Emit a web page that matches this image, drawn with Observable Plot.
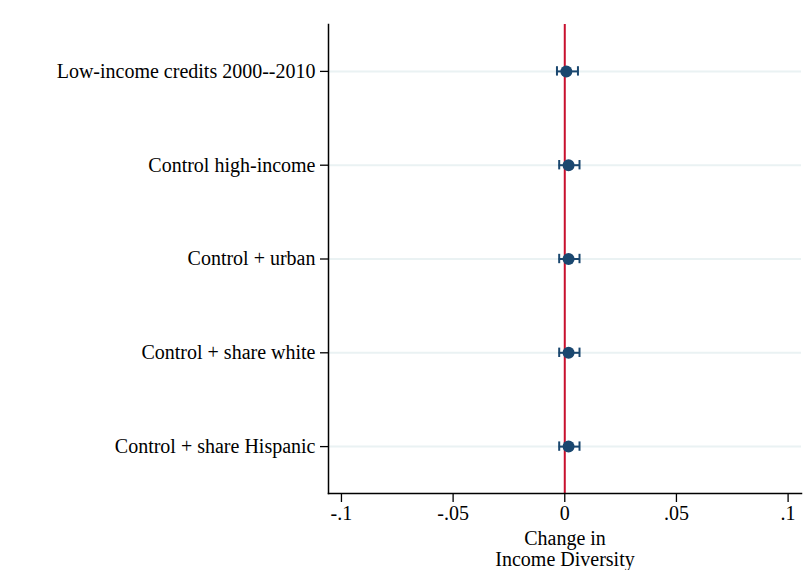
<!DOCTYPE html>
<html>
<head>
<meta charset="utf-8">
<script src="https://cdn.jsdelivr.net/npm/d3@7"></script>
<script src="https://cdn.jsdelivr.net/npm/@observablehq/plot@0.6"></script>
<style>
  html, body { margin: 0; padding: 0; background: #fff; }
  svg { display: block; }
</style>
</head>
<body>
<div id="chart"></div>
<script>
const models = [
  "Low-income credits 2000--2010",
  "Control high-income",
  "Control + urban",
  "Control + share white",
  "Control + share Hispanic"
];
const estimates = [0.0007, 0.0017, 0.0017, 0.0017, 0.0017];
const ciLow = [-0.0035, -0.0025, -0.0025, -0.0025, -0.0025];
const ciHigh = [0.0059, 0.0066, 0.0066, 0.0066, 0.0066];
const xTicks = [-0.1, -0.05, 0, 0.05, 0.1];
const xDomain = [-0.1058, 0.106];
const xTitle = "Change in\nIncome Diversity";

const rows = models.map((m, i) => ({model: m, est: estimates[i], lo: ciLow[i], hi: ciHigh[i]}));
const fmt = v => v === 0 ? "0" : String(v).replace("0.", ".");
const navy = "#1a476f";
const font = "Liberation Serif, Times New Roman, serif";

const chart = Plot.plot({
  width: 811,
  height: 570,
  marginLeft: 328,
  marginRight: 10,
  marginTop: 24,
  marginBottom: 77,
  style: {fontFamily: font, fontSize: "20px", color: "#000", background: "#fff"},
  x: {domain: xDomain, ticks: xTicks, tickFormat: fmt, label: null},
  y: {type: "band", domain: models, paddingInner: 0.9, paddingOuter: 0.45, round: false, label: null},
  marks: [
    Plot.gridY(models, {stroke: "#eaf2f3", strokeOpacity: 1, strokeWidth: 2}),
    Plot.ruleX([0], {stroke: "#c8102e", strokeWidth: 2}),
    Plot.axisX({ticks: xTicks, tickFormat: fmt, tickSize: 9, tickPadding: 3, label: null, strokeWidth: 1.3, fontSize: 20}),
    Plot.axisY({tickSize: 8, tickPadding: 5, label: null, strokeWidth: 1.3, fontSize: 20}),
    Plot.frame({anchor: "left", stroke: "#000", strokeWidth: 1.5}),
    Plot.frame({anchor: "bottom", stroke: "#000", strokeWidth: 1.5}),
    Plot.ruleY(rows, {y: "model", x1: "lo", x2: "hi", stroke: navy, strokeWidth: 2}),
    Plot.tickX(rows, {x: "lo", y: "model", stroke: navy, strokeWidth: 2}),
    Plot.tickX(rows, {x: "hi", y: "model", stroke: navy, strokeWidth: 2}),
    Plot.dot(rows, {x: "est", y: "model", r: 6, fill: navy, stroke: "none"}),
    Plot.text([xTitle], {frameAnchor: "bottom", dy: 37, lineAnchor: "top", lineHeight: 1.05, fontSize: 20, fill: "#000"})
  ]
});

document.getElementById("chart").appendChild(chart);
</script>
</body>
</html>
